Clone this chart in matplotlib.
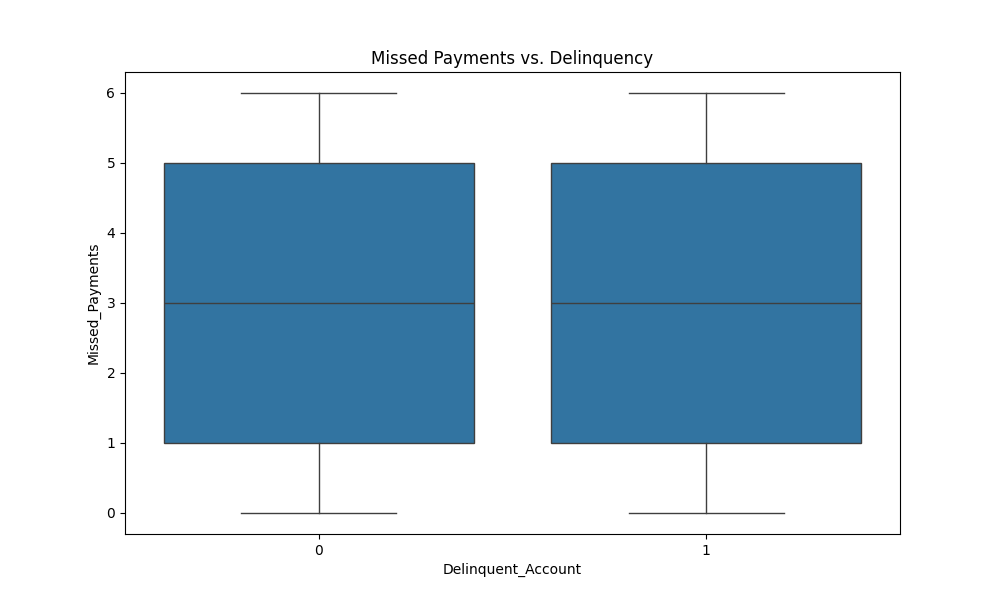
import matplotlib
matplotlib.use("Agg")
import matplotlib.pyplot as plt

categories = ["0", "1"]
whislo = [0, 0]
q1 = [1, 1]
med = [3, 3]
q3 = [5, 5]
whishi = [6, 6]

stats = [dict(label=c, whislo=a, q1=b, med=m, q3=d, whishi=e, fliers=[])
         for c, a, b, m, d, e in zip(categories, whislo, q1, med, q3, whishi)]

fig, ax = plt.subplots(figsize=(10, 6), dpi=100)
lc = "#3f3f3f"
ax.bxp(stats, positions=range(len(categories)), widths=0.8, patch_artist=True,
       boxprops=dict(facecolor="#3274a1", edgecolor=lc, linewidth=1.0),
       medianprops=dict(color=lc, linewidth=1.0),
       whiskerprops=dict(color=lc, linewidth=1.0),
       capprops=dict(color=lc, linewidth=1.0), capwidths=0.4)
ax.set_xlim(-0.5, 1.5)
ax.set_xticks(range(len(categories)))
ax.set_xticklabels(categories)
ax.set_title("Missed Payments vs. Delinquency")
ax.set_xlabel("Delinquent_Account")
ax.set_ylabel("Missed_Payments")
fig.savefig("out.png")
